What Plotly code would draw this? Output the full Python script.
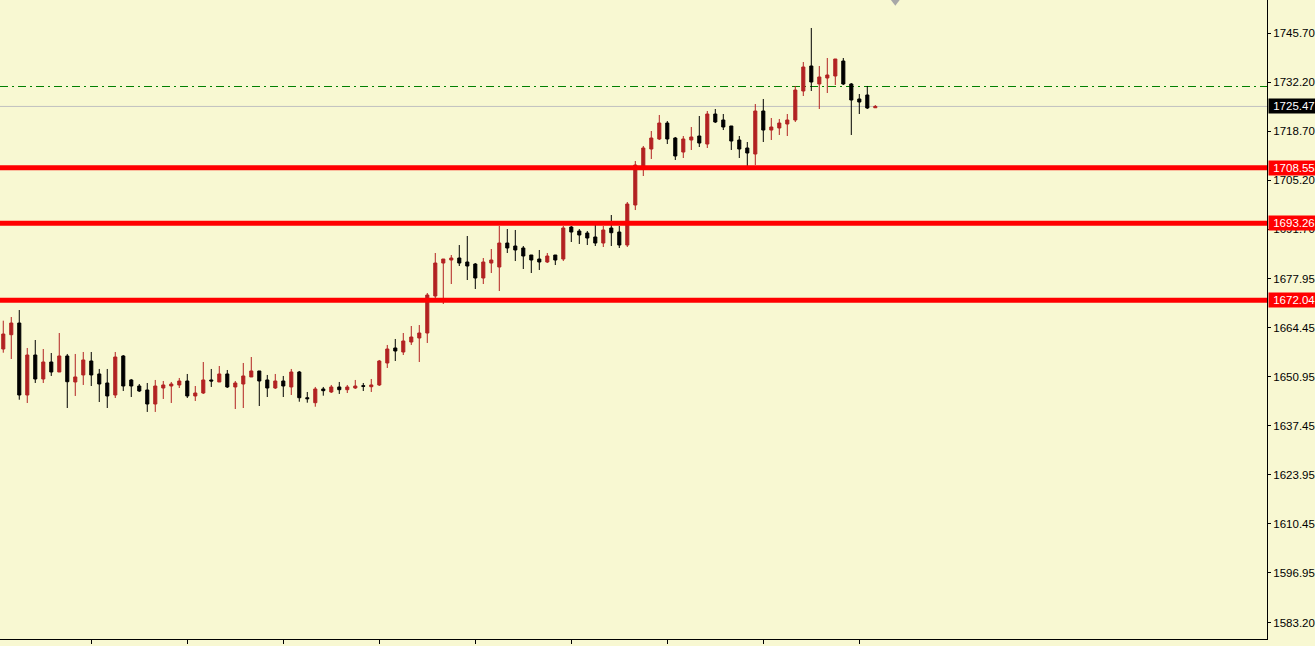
import plotly.graph_objects as go

# ---------------- data ----------------
bar_index = list(range(110))

open_ = [
    1658.64, 1662.58, 1665.80, 1645.97, 1656.99, 1650.38, 1655.06, 1652.31, 1656.72, 1649.56,
    1651.49, 1655.34, 1651.76, 1649.28, 1645.97, 1656.72, 1650.11, 1648.45, 1647.35, 1643.49,
    1647.90, 1648.45, 1648.73, 1649.83, 1645.70, 1646.52, 1650.11, 1649.56, 1651.76, 1648.18,
    1649.00, 1650.94, 1652.59, 1650.11, 1647.90, 1649.83, 1648.18, 1652.31, 1645.22, 1643.85,
    1647.63, 1646.80, 1648.18, 1647.43, 1647.90, 1648.53, 1648.26, 1648.73, 1654.79, 1658.92,
    1657.82, 1660.57, 1661.67, 1663.05, 1673.24, 1682.33, 1683.16, 1683.71, 1682.61, 1682.06,
    1678.20, 1682.33, 1681.23, 1687.84, 1687.02, 1686.47, 1684.54, 1683.43, 1682.61, 1684.54,
    1683.43, 1692.25, 1691.15, 1690.60, 1689.50, 1687.84, 1691.98, 1690.87, 1687.29, 1698.31,
    1708.86, 1713.74, 1716.50, 1720.90, 1716.77, 1712.91, 1716.22, 1717.32, 1715.12, 1723.38,
    1721.73, 1720.08, 1716.22, 1714.02, 1712.36, 1724.21, 1718.97, 1719.53, 1720.63, 1721.73,
    1729.72, 1736.61, 1731.65, 1733.30, 1733.85, 1737.98, 1731.65, 1727.52, 1728.62, 1725.10,
]

high_ = [
    1666.44, 1667.46, 1669.38, 1658.92, 1661.12, 1658.64, 1657.54, 1663.05, 1657.27, 1657.27,
    1657.82, 1657.82, 1653.14, 1653.14, 1657.82, 1656.99, 1650.38, 1649.00, 1649.28, 1650.11,
    1649.83, 1649.56, 1650.66, 1651.76, 1648.45, 1655.06, 1653.14, 1653.96, 1652.86, 1649.83,
    1654.79, 1656.44, 1652.59, 1651.49, 1651.76, 1651.21, 1653.14, 1652.59, 1646.80, 1648.18,
    1648.18, 1648.73, 1649.56, 1648.73, 1650.11, 1649.28, 1650.38, 1655.62, 1659.75, 1661.40,
    1663.05, 1664.98, 1665.25, 1674.07, 1685.09, 1683.43, 1684.54, 1687.29, 1689.77, 1682.33,
    1683.71, 1686.19, 1692.53, 1691.70, 1691.43, 1687.02, 1684.54, 1685.92, 1685.09, 1684.54,
    1692.53, 1692.53, 1691.70, 1691.15, 1692.80, 1692.53, 1695.56, 1692.53, 1699.14, 1710.43,
    1714.57, 1718.70, 1723.11, 1721.45, 1717.05, 1717.32, 1719.80, 1722.83, 1724.21, 1724.76,
    1723.38, 1720.08, 1717.32, 1715.67, 1726.14, 1727.52, 1722.28, 1722.01, 1723.38, 1731.10,
    1737.71, 1747.08, 1736.61, 1738.81, 1738.54, 1738.81, 1731.92, 1728.89, 1731.10, 1725.86,
]

low_ = [
    1657.62, 1655.89, 1644.67, 1643.77, 1649.28, 1649.28, 1651.21, 1652.31, 1642.39, 1645.70,
    1648.73, 1648.45, 1644.04, 1642.39, 1645.14, 1647.07, 1645.42, 1646.80, 1641.30, 1641.30,
    1644.87, 1643.77, 1647.90, 1645.14, 1644.32, 1646.25, 1648.18, 1649.56, 1647.90, 1642.11,
    1642.39, 1650.94, 1642.94, 1645.42, 1647.63, 1645.42, 1645.97, 1644.12, 1643.85, 1642.74,
    1645.78, 1646.52, 1646.25, 1646.52, 1647.63, 1647.07, 1646.80, 1648.45, 1653.41, 1655.34,
    1656.99, 1659.75, 1655.06, 1660.30, 1672.69, 1671.04, 1676.55, 1681.51, 1677.65, 1675.17,
    1676.55, 1679.58, 1674.62, 1685.09, 1682.88, 1680.68, 1679.58, 1680.41, 1682.33, 1681.78,
    1682.88, 1688.12, 1687.57, 1687.29, 1687.02, 1686.74, 1687.02, 1686.47, 1686.74, 1696.93,
    1706.30, 1710.99, 1716.22, 1715.12, 1710.71, 1711.26, 1713.47, 1714.29, 1714.02, 1720.90,
    1718.97, 1713.47, 1711.26, 1709.06, 1709.33, 1715.67, 1716.22, 1717.60, 1717.32, 1721.18,
    1728.34, 1729.72, 1724.76, 1729.17, 1731.37, 1731.37, 1717.60, 1723.38, 1724.76, 1725.04,
]

close_ = [
    1662.77, 1665.80, 1645.97, 1656.99, 1650.38, 1655.06, 1652.31, 1656.72, 1649.63, 1650.94,
    1655.62, 1651.49, 1649.00, 1645.70, 1656.44, 1648.45, 1648.45, 1647.07, 1643.49, 1648.45,
    1648.73, 1649.00, 1649.83, 1645.70, 1646.52, 1650.11, 1649.83, 1651.76, 1648.18, 1649.28,
    1651.21, 1652.59, 1649.83, 1647.90, 1649.83, 1648.45, 1652.31, 1645.22, 1644.95, 1647.63,
    1647.16, 1648.18, 1647.43, 1648.18, 1648.45, 1648.37, 1648.73, 1655.34, 1658.64, 1658.09,
    1660.85, 1661.95, 1663.05, 1673.52, 1682.33, 1683.43, 1683.71, 1682.33, 1681.51, 1678.20,
    1682.61, 1683.16, 1687.84, 1686.47, 1685.92, 1684.26, 1683.16, 1682.61, 1684.26, 1683.16,
    1691.98, 1690.87, 1690.05, 1689.22, 1687.84, 1691.43, 1690.68, 1687.29, 1698.59, 1709.33,
    1714.02, 1716.77, 1720.90, 1716.50, 1711.81, 1716.50, 1717.05, 1715.39, 1723.38, 1721.18,
    1719.80, 1715.94, 1713.74, 1712.64, 1724.21, 1718.97, 1719.80, 1720.90, 1721.73, 1729.99,
    1736.33, 1732.20, 1733.58, 1734.13, 1738.54, 1731.65, 1727.24, 1726.69, 1725.04, 1725.47,
]

# price axis tick labels
price_ticks = [1745.70, 1732.20, 1718.70, 1705.20, 1691.70, 1677.95, 1664.45,
               1650.95, 1637.45, 1623.95, 1610.45, 1596.95, 1583.20]
price_tick_text = ["1745.70", "1732.20", "1718.70", "1705.20", "1691.70", "1677.95", "1664.45",
                   "1650.95", "1637.45", "1623.95", "1610.45", "1596.95", "1583.20"]

# time-axis tick marks (every 12 bars, labels not visible)
time_ticks = [11, 23, 35, 47, 59, 71, 83, 95, 107]

# horizontal levels
support_levels = [1708.55, 1693.26, 1672.04]
signal_level = 1730.96
bid_price = 1725.47
shift_marker_bar = 111.5

# ---------------- styling ----------------
BG = "#F8F8D2"
UP = "#B22222"
DOWN = "#000000"
FONT = "Liberation Sans"
FONT_SIZE = 11.5

fig = go.Figure()
fig.add_trace(go.Candlestick(
    x=bar_index, open=open_, high=high_, low=low_, close=close_,
    increasing=dict(line=dict(color=UP, width=1), fillcolor=UP),
    decreasing=dict(line=dict(color=DOWN, width=1), fillcolor=DOWN),
    whiskerwidth=0, showlegend=False, hoverinfo="skip",
))

# chart shift marker at the very top
fig.add_trace(go.Scatter(
    x=[shift_marker_bar], y=[1754.6], mode="markers",
    marker=dict(symbol="triangle-down", size=10, color="#A8A8A8"),
    cliponaxis=False, showlegend=False, hoverinfo="skip",
))

# bid line
fig.add_shape(type="line", xref="paper", x0=0, x1=1, yref="y", y0=bid_price, y1=bid_price,
              line=dict(color="#C0C0C0", width=1), layer="below")
# green dash-dot signal line
fig.add_shape(type="line", xref="paper", x0=0, x1=1, yref="y", y0=signal_level, y1=signal_level,
              line=dict(color="#008000", width=1, dash="8px,4px,2px,4px"), layer="below")
# red support/resistance lines
for lvl in support_levels:
    fig.add_shape(type="line", xref="paper", x0=0, x1=1, yref="y", y0=lvl, y1=lvl,
                  line=dict(color="#FF0000", width=5), layer="above")

annotations = []
for lvl in support_levels:
    annotations.append(dict(
        xref="paper", x=1, xanchor="left", xshift=1, yref="y", y=lvl, yanchor="middle",
        text=f" {lvl:.2f}", showarrow=False, bgcolor="#FF0000", borderpad=1,
        font=dict(family=FONT, size=FONT_SIZE, color="white"),
    ))
annotations.append(dict(
    xref="paper", x=1, xanchor="left", xshift=1, yref="y", y=bid_price, yanchor="middle",
    text=f" {bid_price:.2f}", showarrow=False, bgcolor="#000000", borderpad=1,
    font=dict(family=FONT, size=FONT_SIZE, color="white"),
))

fig.update_layout(
    width=1315, height=646, autosize=False,
    margin=dict(l=0, r=48, t=0, b=7, pad=0, autoexpand=False),
    paper_bgcolor=BG, plot_bgcolor=BG,
    boxgap=0.45,
    showlegend=False,
    annotations=annotations,
    xaxis=dict(
        range=[-0.41, 157.96], showgrid=False, zeroline=False, automargin=False,
        rangeslider=dict(visible=False),
        tickvals=time_ticks, ticktext=[""] * len(time_ticks),
        ticks="outside", ticklen=4, tickcolor="black", tickwidth=1,
        showline=True, linecolor="black", linewidth=1,
    ),
    yaxis=dict(
        side="right", range=[1578.75, 1754.79], showgrid=False, zeroline=False,
        automargin=False,
        tickvals=price_ticks, ticktext=price_tick_text,
        ticks="outside", ticklen=3, tickcolor="black", tickwidth=1,
        showline=True, linecolor="black", linewidth=1,
        tickfont=dict(family=FONT, size=FONT_SIZE, color="black"),
    ),
)

fig.write_html(
    "out.html",
    config={"displayModeBar": False},
    post_script="document.body.style.margin='0';document.body.style.overflow='hidden';",
)
